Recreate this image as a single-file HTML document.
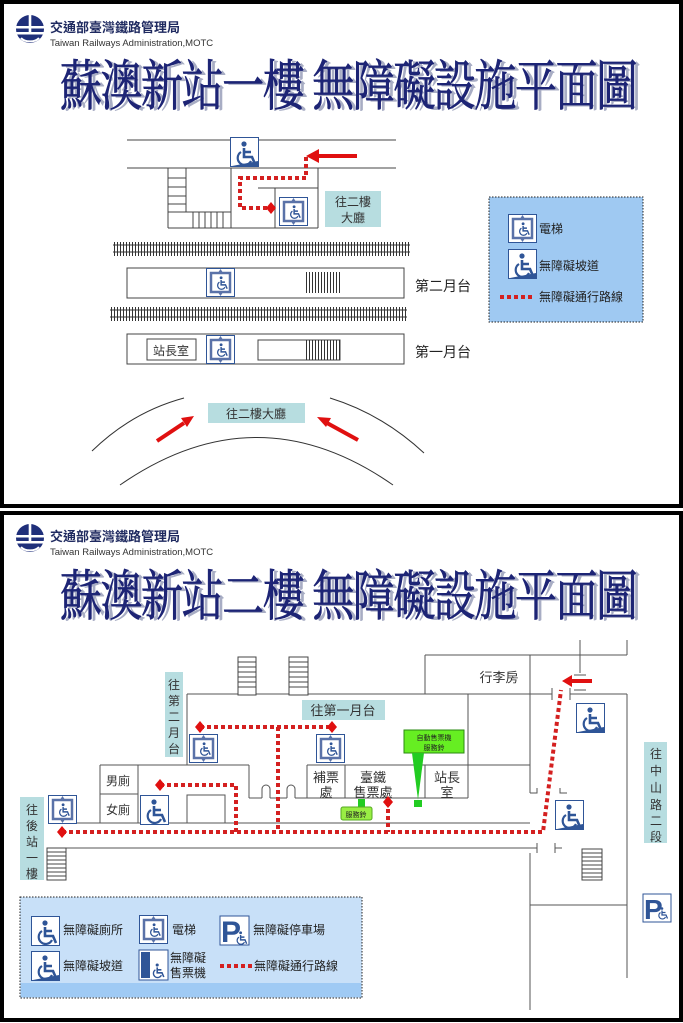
<!DOCTYPE html>
<html><head><meta charset="utf-8"><style>
html,body{margin:0;padding:0;background:#fff}
svg{display:block}
text{font-family:"Liberation Sans","Noto Sans CJK TC","Noto Sans CJK SC",sans-serif}
.t{font-family:"Liberation Serif","Noto Serif CJK SC",serif;font-weight:normal}
</style></head><body>
<svg width="683" height="1023" viewBox="0 0 683 1023" xmlns="http://www.w3.org/2000/svg">
<defs>
<g id="wc">
  <circle cx="12" cy="5" r="2.6" fill="#2f5597"/>
  <path d="M12 9 L12 18 L20 18 L23 25 M12 13 L19 13" stroke="#2f5597" stroke-width="2.6" fill="none"/>
  <path d="M9 13 A7 7 0 1 0 19 22" stroke="#2f5597" stroke-width="2.2" fill="none"/>
</g>
<g id="ramp">
  <rect x="0.5" y="0.5" width="28" height="29" fill="#fff" stroke="#2f5597"/>
  <use href="#wc" x="2" y="2"/>
  <path d="M2 29 L28 29 L28 24 Z" fill="#2f5597"/>
</g>
<g id="toilet">
  <rect x="0.5" y="0.5" width="28" height="29" fill="#fff" stroke="#2f5597"/>
  <use href="#wc" x="2" y="2"/>
</g>
<g id="elev">
  <rect x="0.5" y="0.5" width="28" height="28" fill="#fff" stroke="#2f5597"/>
  <rect x="5" y="5" width="19" height="19" fill="none" stroke="#5a72a8" stroke-width="2.5"/>
  <g transform="translate(8.5,7) scale(0.55)"><use href="#wc"/></g>
  <path d="M14.5 1 l-2 3 h4 z M14.5 28 l-2 -3 h4 z" fill="#5a72a8"/>
</g>
<g id="logo">
  <circle cx="0" cy="0" r="14" fill="#1f2f7a"/>
  <rect x="-14" y="-3" width="28" height="2.5" fill="#fff"/>
  <rect x="-14" y="3" width="28" height="2.5" fill="#fff"/>
  <rect x="-1.3" y="-14" width="2.6" height="18" fill="#fff"/>
  <path d="M-9 9 A10 6 0 0 0 9 9" stroke="#fff" stroke-width="2" fill="none"/>
</g>
<pattern id="track" width="3" height="16" patternUnits="userSpaceOnUse"><rect x="0" y="0" width="1" height="16" fill="#333"/></pattern>
</defs>

<!-- PANEL 1 -->
<rect x="2" y="2" width="679" height="504" fill="#fff" stroke="#000" stroke-width="4"/>
<use href="#logo" x="30" y="29"/>
<text x="50" y="32" font-size="13" font-weight="bold" fill="#1f2a60">交通部臺灣鐵路管理局</text>
<text x="50" y="46" font-size="9.5" fill="#333">Taiwan Railways Administration,MOTC</text>
<g transform="translate(0,105) scale(1,1.3)">
<text class="t" x="62" y="0" font-size="42" fill="#a8adc4" textLength="578" lengthAdjust="spacing" dx="2" dy="1">蘇澳新站一樓 無障礙設施平面圖</text>
<text class="t" x="60" y="0" font-size="42" fill="#1d2475" stroke="#1d2475" stroke-width="0.6" textLength="578" lengthAdjust="spacing">蘇澳新站一樓 無障礙設施平面圖</text>
</g>

<g stroke="#444" stroke-width="1" fill="none">
<line x1="127" y1="140" x2="396" y2="140"/>
<line x1="127" y1="168" x2="396" y2="168"/>
<rect x="168" y="168" width="18" height="44"/>
<line x1="168" y1="178" x2="186" y2="178"/><line x1="168" y1="187" x2="186" y2="187"/><line x1="168" y1="196" x2="186" y2="196"/><line x1="168" y1="204" x2="186" y2="204"/>
<line x1="168" y1="212" x2="168" y2="228"/>
<line x1="186" y1="168" x2="186" y2="212"/><line x1="186" y1="212" x2="231" y2="212"/>
<line x1="231" y1="168" x2="231" y2="228"/>
<line x1="168" y1="228" x2="318" y2="228"/>
<line x1="318" y1="168" x2="318" y2="228"/>
<line x1="258" y1="188" x2="318" y2="188"/>
<line x1="275" y1="188" x2="275" y2="228"/>
<path d="M193 212v16M199 212v16M205 212v16M211 212v16M217 212v16M223 212v16"/>
</g>
<use href="#ramp" x="230" y="137"/>
<use href="#elev" x="279" y="197"/>
<rect x="325" y="191" width="56" height="36" fill="#b7dde0"/>
<text x="353" y="206" font-size="12" text-anchor="middle" fill="#333">往二樓</text>
<text x="353" y="222" font-size="12" text-anchor="middle" fill="#333">大廳</text>
<path d="M306 157 V178 H240 V208 H268" stroke="#d42020" stroke-width="4" stroke-dasharray="4 3" fill="none"/>
<path d="M271 202 l5 6 l-5 6 l-5 -6z" fill="#e01010"/>
<line x1="357" y1="156" x2="318" y2="156" stroke="#e01010" stroke-width="4"/>
<path d="M306 156 l13 -7 v14 z" fill="#e01010"/>

<!-- tracks -->
<rect x="113" y="242" width="297" height="14" fill="url(#track)"/>
<line x1="113" y1="245" x2="410" y2="245" stroke="#333"/><line x1="113" y1="252" x2="410" y2="252" stroke="#333"/>
<rect x="110" y="307" width="297" height="14" fill="url(#track)"/>
<line x1="110" y1="310" x2="407" y2="310" stroke="#333"/><line x1="110" y1="317" x2="407" y2="317" stroke="#333"/>
<rect x="127" y="268" width="277" height="30" fill="#fff" stroke="#444"/>
<rect x="127" y="334" width="277" height="30" fill="#fff" stroke="#444"/>
<use href="#elev" x="206" y="268"/>
<use href="#elev" x="206" y="335"/>
<rect x="147" y="339" width="49" height="21" fill="none" stroke="#444"/>
<text x="171" y="355" font-size="12" text-anchor="middle" fill="#333">站長室</text>
<rect x="258" y="340" width="82" height="20" fill="none" stroke="#444"/>
<rect x="305" y="272" width="35" height="21" fill="url(#track)"/>
<rect x="305" y="340" width="35" height="20" fill="url(#track)"/>
<text x="415" y="291" font-size="14" fill="#222">第二月台</text>
<text x="415" y="357" font-size="14" fill="#222">第一月台</text>

<!-- legend 1 -->
<rect x="489" y="197" width="154" height="125" fill="#9fc9f2" stroke="#222" stroke-dasharray="1.5 1.5"/>
<use href="#elev" x="508" y="214"/>
<text x="539" y="233" font-size="12" fill="#222">電梯</text>
<use href="#ramp" x="508" y="249"/>
<text x="539" y="270" font-size="12" fill="#222">無障礙坡道</text>
<line x1="500" y1="297" x2="535" y2="297" stroke="#d42020" stroke-width="4" stroke-dasharray="4 3"/>
<text x="539" y="301" font-size="12" fill="#222">無障礙通行路線</text>

<!-- arcs -->
<path d="M92 451 Q132 412 184 398" stroke="#333" fill="none"/>
<path d="M330 398 Q382 414 424 453" stroke="#333" fill="none"/>
<path d="M120 485 Q257 390 393 485" stroke="#333" fill="none"/>
<rect x="208" y="403" width="97" height="20" fill="#b7dde0"/>
<text x="256" y="418" font-size="12" text-anchor="middle" fill="#333">往二樓大廳</text>
<line x1="157" y1="441" x2="184" y2="423" stroke="#e01010" stroke-width="4"/>
<path d="M194 416 l-13 2 l6 9 z" fill="#e01010"/>
<line x1="358" y1="440" x2="327" y2="423" stroke="#e01010" stroke-width="4"/>
<path d="M317 417 l14 1 l-5 9 z" fill="#e01010"/>

<!-- PANEL 2 -->
<rect x="2" y="513" width="679" height="507" fill="#fff" stroke="#000" stroke-width="4"/>
<use href="#logo" x="30" y="538"/>
<text x="50" y="541" font-size="13" font-weight="bold" fill="#1f2a60">交通部臺灣鐵路管理局</text>
<text x="50" y="555" font-size="9.5" fill="#333">Taiwan Railways Administration,MOTC</text>
<g transform="translate(0,615) scale(1,1.3)">
<text class="t" x="62" y="0" font-size="42" fill="#a8adc4" textLength="578" lengthAdjust="spacing" dx="2" dy="1">蘇澳新站二樓 無障礙設施平面圖</text>
<text class="t" x="60" y="0" font-size="42" fill="#1d2475" stroke="#1d2475" stroke-width="0.6" textLength="578" lengthAdjust="spacing">蘇澳新站二樓 無障礙設施平面圖</text>
</g>

<g stroke="#555" stroke-width="1" fill="none">
<line x1="627" y1="640" x2="627" y2="655"/>
<line x1="425" y1="655" x2="627" y2="655"/>
<line x1="425" y1="655" x2="425" y2="694"/>
<line x1="530" y1="655" x2="530" y2="793"/>
<line x1="187" y1="694" x2="552" y2="694"/>
<line x1="570" y1="694" x2="627" y2="694"/>
<line x1="627" y1="694" x2="627" y2="978"/>
<line x1="580" y1="640" x2="580" y2="673"/>
<path d="M574 675h12M574 690h12M552 688v12M570 688v12"/>
<line x1="468" y1="694" x2="468" y2="798"/>
<line x1="187" y1="694" x2="187" y2="765"/>
<line x1="100" y1="765" x2="249" y2="765"/>
<line x1="249" y1="765" x2="249" y2="798"/>
<line x1="249" y1="798" x2="262" y2="798"/>
<path d="M262 798 v-9 a4 4 0 0 1 8 0 v9"/>
<line x1="270" y1="798" x2="287" y2="798"/>
<path d="M287 798 v-9 a4 4 0 0 1 8 0 v9"/>
<line x1="295" y1="798" x2="468" y2="798"/>
<line x1="307" y1="765" x2="530" y2="765"/>
<line x1="307" y1="765" x2="307" y2="798"/>
<line x1="345" y1="765" x2="345" y2="798"/>
<line x1="425" y1="765" x2="425" y2="798"/>
<line x1="100" y1="765" x2="100" y2="823"/>
<line x1="138" y1="765" x2="138" y2="823"/>
<line x1="100" y1="794" x2="138" y2="794"/>
<rect x="187" y="795" width="38" height="28"/>
<line x1="48" y1="823" x2="530" y2="823"/>
<line x1="65" y1="848" x2="537" y2="848"/>
<path d="M530 793h7v-5M560 788v5h7M537 843v10M555 843v10M555 848h7"/>
<line x1="530" y1="853" x2="530" y2="1010"/>
<line x1="530" y1="905" x2="627" y2="905"/>
</g>
<rect x="238" y="657" width="18" height="38" fill="#fff" stroke="#444"/>
<path d="M238 662h18M238 667h18M238 672h18M238 677h18M238 682h18M238 687h18" stroke="#444"/>
<rect x="289" y="657" width="19" height="38" fill="#fff" stroke="#444"/>
<path d="M289 662h19M289 667h19M289 672h19M289 677h19M289 682h19M289 687h19" stroke="#444"/>
<rect x="47" y="848" width="19" height="32" fill="#fff" stroke="#444"/>
<path d="M47 852h19M47 856h19M47 860h19M47 864h19M47 868h19M47 872h19M47 876h19" stroke="#444"/>
<rect x="582" y="849" width="20" height="31" fill="#fff" stroke="#444"/>
<path d="M582 853h20M582 857h20M582 861h20M582 865h20M582 869h20M582 873h20M582 877h20" stroke="#444"/>

<text x="118" y="785" font-size="12" text-anchor="middle" fill="#333">男廁</text>
<text x="118" y="814" font-size="12" text-anchor="middle" fill="#333">女廁</text>
<text x="326" y="782" font-size="13" text-anchor="middle" fill="#333">補票</text>
<text x="326" y="797" font-size="13" text-anchor="middle" fill="#333">處</text>
<text x="373" y="782" font-size="13" text-anchor="middle" fill="#333">臺鐵</text>
<text x="373" y="797" font-size="13" text-anchor="middle" fill="#333">售票處</text>
<text x="447" y="782" font-size="13" text-anchor="middle" fill="#333">站長</text>
<text x="447" y="797" font-size="13" text-anchor="middle" fill="#333">室</text>
<text x="499" y="682" font-size="13" text-anchor="middle" fill="#333">行李房</text>

<use href="#toilet" x="140" y="795"/>
<use href="#elev" x="189" y="734"/>
<use href="#elev" x="316" y="734"/>
<use href="#elev" x="48" y="795"/>
<use href="#ramp" x="576" y="703"/>
<use href="#ramp" x="555" y="800"/>
<g>
<rect x="643" y="894" width="28" height="28" fill="#fff" stroke="#2f5597"/>
<text x="644" y="919" font-size="28" font-weight="bold" fill="#2f5597">P</text>
<g transform="translate(656,906) scale(0.5)"><use href="#wc"/></g>
</g>

<rect x="165" y="672" width="18" height="85" fill="#b7dde0"/>
<text x="174" y="689" font-size="12" text-anchor="middle" fill="#333">往</text>
<text x="174" y="705" font-size="12" text-anchor="middle" fill="#333">第</text>
<text x="174" y="721" font-size="12" text-anchor="middle" fill="#333">二</text>
<text x="174" y="737" font-size="12" text-anchor="middle" fill="#333">月</text>
<text x="174" y="753" font-size="12" text-anchor="middle" fill="#333">台</text>
<rect x="20" y="797" width="24" height="83" fill="#b7dde0"/>
<text x="32" y="814" font-size="12" text-anchor="middle" fill="#333">往</text>
<text x="32" y="830" font-size="12" text-anchor="middle" fill="#333">後</text>
<text x="32" y="846" font-size="12" text-anchor="middle" fill="#333">站</text>
<text x="32" y="862" font-size="12" text-anchor="middle" fill="#333">一</text>
<text x="32" y="878" font-size="12" text-anchor="middle" fill="#333">樓</text>
<rect x="644" y="742" width="23" height="101" fill="#b7dde0"/>
<text x="656" y="758" font-size="12" text-anchor="middle" fill="#333">往</text>
<text x="656" y="775" font-size="12" text-anchor="middle" fill="#333">中</text>
<text x="656" y="792" font-size="12" text-anchor="middle" fill="#333">山</text>
<text x="656" y="809" font-size="12" text-anchor="middle" fill="#333">路</text>
<text x="656" y="825" font-size="12" text-anchor="middle" fill="#333">二</text>
<text x="656" y="841" font-size="12" text-anchor="middle" fill="#333">段</text>
<rect x="302" y="700" width="83" height="20" fill="#b7dde0"/>
<text x="343" y="715" font-size="13" text-anchor="middle" fill="#333">往第一月台</text>

<rect x="404" y="730" width="60" height="23" fill="#66ee22" stroke="#2a8a10"/>
<text x="434" y="740" font-size="7" text-anchor="middle" fill="#222">自動售票機</text>
<text x="434" y="750" font-size="7" text-anchor="middle" fill="#222">服務鈴</text>
<path d="M412 753 L424 753 L418 800 Z" fill="#22cc22"/>
<rect x="414" y="800" width="8" height="7" fill="#22cc22"/>
<rect x="358" y="799" width="7" height="8" fill="#22cc22"/>
<rect x="341" y="807" width="31" height="13" rx="2" fill="#99ee44" stroke="#55aa22"/>
<text x="356" y="817" font-size="7" text-anchor="middle" fill="#222">服務鈴</text>

<g stroke="#d42020" stroke-width="4" stroke-dasharray="4 3" fill="none">
<path d="M200 727 H332 M278 727 V832"/>
<path d="M160 785 H236 V832"/>
<path d="M388 802 V832"/>
<path d="M62 832 H543 L561 690"/>
</g>
<g fill="#e01010">
<path d="M200 721 l5 6 l-5 6 l-5 -6z"/>
<path d="M332 721 l5 6 l-5 6 l-5 -6z"/>
<path d="M160 779 l5 6 l-5 6 l-5 -6z"/>
<path d="M388 796 l5 6 l-5 6 l-5 -6z"/>
<path d="M62 826 l5 6 l-5 6 l-5 -6z"/>
<path d="M562 681 l10 -6 v12 z"/>
</g>
<line x1="571" y1="681" x2="592" y2="681" stroke="#e01010" stroke-width="4"/>

<!-- legend 2 -->
<rect x="20" y="897" width="342" height="101" fill="#c8e0f8" stroke="#222" stroke-dasharray="1.5 1.5"/>
<rect x="21" y="983" width="340" height="14" fill="#9fcaf4"/>
<use href="#toilet" x="31" y="916"/>
<text x="63" y="934" font-size="12" fill="#222">無障礙廁所</text>
<use href="#elev" x="139" y="915"/>
<text x="172" y="934" font-size="12" fill="#222">電梯</text>
<rect x="220" y="916" width="29" height="29" fill="#fff" stroke="#2f5597"/>
<text x="221" y="942" font-size="30" font-weight="bold" fill="#2f5597">P</text>
<g transform="translate(234,930) scale(0.55)"><use href="#wc"/></g>
<text x="253" y="934" font-size="12" fill="#222">無障礙停車場</text>
<use href="#ramp" x="31" y="951"/>
<text x="63" y="970" font-size="12" fill="#222">無障礙坡道</text>
<rect x="139" y="950" width="29" height="30" fill="#fff" stroke="#2f5597"/>
<rect x="141" y="952" width="9" height="26" fill="#2f5597"/>
<g transform="translate(150,962) scale(0.6)"><use href="#wc"/></g>
<text x="170" y="962" font-size="12" fill="#222">無障礙</text>
<text x="170" y="977" font-size="12" fill="#222">售票機</text>
<line x1="220" y1="966" x2="252" y2="966" stroke="#d42020" stroke-width="4" stroke-dasharray="4 3"/>
<text x="254" y="970" font-size="12" fill="#222">無障礙通行路線</text>
</svg>
</body></html>
